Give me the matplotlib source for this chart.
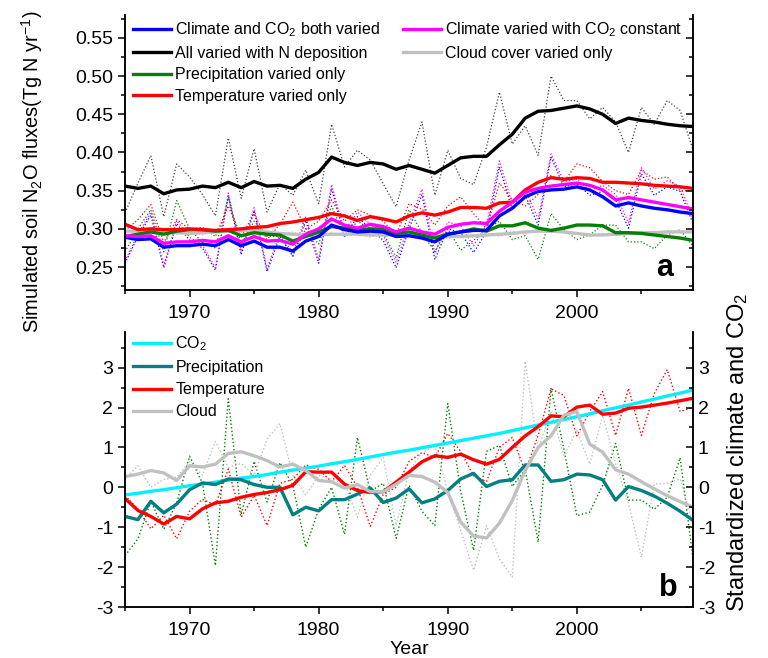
import numpy as np
import matplotlib
matplotlib.use('Agg')
import matplotlib.pyplot as plt
from matplotlib.lines import Line2D
from matplotlib.ticker import MultipleLocator

plt.rcParams['font.family'] = ['Liberation Sans', 'DejaVu Sans']
plt.rcParams['mathtext.fontset'] = 'custom'
plt.rcParams['mathtext.rm'] = 'Liberation Sans'
plt.rcParams['mathtext.it'] = 'Liberation Sans:italic'
plt.rcParams['axes.linewidth'] = 1.1
plt.rcParams['axes.unicode_minus'] = False

years = np.arange(1965, 2010)

# panel a: simulated soil N2O fluxes, smoothed (solid) and annual (dotted)
both_varied = [0.289, 0.286, 0.287, 0.276, 0.278, 0.278, 0.280, 0.278, 0.286, 0.278,
               0.284, 0.276, 0.276, 0.271, 0.284, 0.290, 0.305, 0.299, 0.296, 0.297,
               0.296, 0.290, 0.291, 0.288, 0.283, 0.293, 0.296, 0.298, 0.298, 0.317,
               0.327, 0.342, 0.349, 0.351, 0.352, 0.355, 0.351, 0.342, 0.330, 0.334,
               0.330, 0.327, 0.325, 0.322, 0.320]
n_deposition = [0.356, 0.353, 0.356, 0.346, 0.351, 0.352, 0.356, 0.354, 0.361, 0.354,
                0.362, 0.356, 0.357, 0.353, 0.365, 0.374, 0.394, 0.387, 0.383, 0.387,
                0.385, 0.378, 0.383, 0.378, 0.373, 0.383, 0.393, 0.395, 0.395, 0.410,
                0.424, 0.445, 0.454, 0.455, 0.458, 0.461, 0.457, 0.450, 0.438, 0.445,
                0.442, 0.440, 0.437, 0.435, 0.434]
precip_only = [0.290, 0.293, 0.296, 0.293, 0.297, 0.299, 0.299, 0.297, 0.298, 0.291,
               0.295, 0.293, 0.292, 0.284, 0.290, 0.296, 0.303, 0.301, 0.299, 0.300,
               0.300, 0.294, 0.296, 0.292, 0.288, 0.293, 0.296, 0.300, 0.297, 0.304,
               0.304, 0.308, 0.301, 0.298, 0.301, 0.305, 0.305, 0.304, 0.295, 0.295,
               0.294, 0.292, 0.290, 0.288, 0.285]
temp_only = [0.306, 0.299, 0.300, 0.299, 0.299, 0.300, 0.299, 0.298, 0.299, 0.300,
             0.302, 0.303, 0.307, 0.309, 0.312, 0.315, 0.320, 0.317, 0.311, 0.316,
             0.313, 0.309, 0.317, 0.321, 0.318, 0.322, 0.328, 0.328, 0.327, 0.334,
             0.335, 0.351, 0.361, 0.367, 0.365, 0.367, 0.366, 0.361, 0.361, 0.360,
             0.359, 0.357, 0.356, 0.355, 0.353]
co2_constant = [0.291, 0.290, 0.291, 0.281, 0.283, 0.283, 0.285, 0.283, 0.291, 0.283,
                0.290, 0.284, 0.285, 0.280, 0.293, 0.300, 0.313, 0.305, 0.301, 0.306,
                0.303, 0.296, 0.301, 0.296, 0.293, 0.302, 0.306, 0.308, 0.307, 0.323,
                0.335, 0.348, 0.353, 0.356, 0.358, 0.360, 0.357, 0.351, 0.338, 0.341,
                0.338, 0.335, 0.332, 0.329, 0.326]
cloud_only = [0.297, 0.297, 0.296, 0.295, 0.295, 0.294, 0.295, 0.296, 0.297, 0.298,
              0.298, 0.296, 0.294, 0.293, 0.292, 0.292, 0.293, 0.293, 0.293, 0.292,
              0.292, 0.292, 0.292, 0.291, 0.291, 0.290, 0.290, 0.291, 0.292, 0.293,
              0.294, 0.296, 0.297, 0.297, 0.296, 0.294, 0.292, 0.292, 0.293, 0.294,
              0.295, 0.295, 0.296, 0.296, 0.296]

both_varied_yr = [0.255, 0.290, 0.318, 0.249, 0.307, 0.285, 0.275, 0.246, 0.344, 0.266,
                  0.324, 0.244, 0.290, 0.264, 0.311, 0.255, 0.353, 0.290, 0.316, 0.300,
                  0.285, 0.249, 0.300, 0.345, 0.260, 0.300, 0.295, 0.269, 0.296, 0.381,
                  0.325, 0.344, 0.305, 0.394, 0.355, 0.359, 0.344, 0.349, 0.338, 0.301,
                  0.372, 0.344, 0.355, 0.349, 0.307]
n_deposition_yr = [0.321, 0.360, 0.396, 0.316, 0.385, 0.368, 0.345, 0.317, 0.419, 0.340,
                   0.405, 0.322, 0.359, 0.344, 0.377, 0.333, 0.437, 0.381, 0.403, 0.390,
                   0.359, 0.329, 0.390, 0.440, 0.344, 0.403, 0.366, 0.358, 0.407, 0.479,
                   0.411, 0.435, 0.396, 0.500, 0.468, 0.468, 0.444, 0.459, 0.440, 0.400,
                   0.459, 0.437, 0.468, 0.455, 0.403]
precip_only_yr = [0.270, 0.300, 0.325, 0.270, 0.337, 0.300, 0.282, 0.275, 0.340, 0.280,
                  0.310, 0.290, 0.290, 0.265, 0.300, 0.280, 0.330, 0.290, 0.310, 0.300,
                  0.295, 0.262, 0.325, 0.295, 0.270, 0.300, 0.272, 0.285, 0.300, 0.310,
                  0.286, 0.291, 0.260, 0.320, 0.299, 0.286, 0.292, 0.305, 0.305, 0.283,
                  0.283, 0.274, 0.292, 0.299, 0.277]
temp_only_yr = [0.298, 0.312, 0.332, 0.282, 0.312, 0.300, 0.302, 0.290, 0.330, 0.290,
                0.320, 0.286, 0.306, 0.335, 0.300, 0.310, 0.338, 0.310, 0.325, 0.318,
                0.310, 0.292, 0.333, 0.326, 0.305, 0.330, 0.342, 0.320, 0.300, 0.360,
                0.338, 0.330, 0.345, 0.370, 0.362, 0.385, 0.380, 0.362, 0.350, 0.345,
                0.377, 0.365, 0.368, 0.350, 0.350]
co2_constant_yr = [0.258, 0.293, 0.322, 0.252, 0.311, 0.289, 0.279, 0.249, 0.347, 0.270,
                   0.328, 0.248, 0.294, 0.268, 0.316, 0.260, 0.358, 0.296, 0.322, 0.306,
                   0.292, 0.256, 0.307, 0.352, 0.268, 0.309, 0.304, 0.278, 0.305, 0.389,
                   0.333, 0.352, 0.313, 0.398, 0.362, 0.365, 0.350, 0.357, 0.345, 0.308,
                   0.380, 0.352, 0.363, 0.356, 0.313]
cloud_only_yr = [0.295, 0.300, 0.294, 0.297, 0.293, 0.296, 0.292, 0.299, 0.300, 0.296,
                 0.301, 0.295, 0.293, 0.296, 0.290, 0.293, 0.295, 0.291, 0.294, 0.289,
                 0.295, 0.290, 0.293, 0.289, 0.292, 0.287, 0.291, 0.289, 0.294, 0.290,
                 0.297, 0.293, 0.300, 0.295, 0.298, 0.293, 0.290, 0.294, 0.291, 0.296,
                 0.297, 0.293, 0.298, 0.295, 0.298]

# panel b: standardized drivers
co2 = [-0.19, -0.15, -0.10, -0.06, -0.01, 0.04, 0.08, 0.13, 0.18, 0.23,
       0.27, 0.32, 0.38, 0.43, 0.48, 0.53, 0.59, 0.64, 0.70, 0.76,
       0.82, 0.88, 0.93, 0.99, 1.05, 1.11, 1.17, 1.23, 1.29, 1.35,
       1.42, 1.49, 1.56, 1.63, 1.70, 1.77, 1.84, 1.92, 1.99, 2.06,
       2.14, 2.21, 2.29, 2.36, 2.44]
precip = [-0.73, -0.81, -0.35, -0.64, -0.42, -0.06, 0.11, 0.07, 0.21, 0.19,
          0.07, 0.00, 0.00, -0.69, -0.50, -0.59, -0.31, -0.31, -0.17, -0.02,
          -0.38, -0.27, -0.04, -0.39, -0.29, -0.08, 0.21, 0.35, 0.02, 0.15,
          0.19, 0.56, 0.56, 0.15, 0.19, 0.33, 0.31, 0.19, -0.32, 0.02,
          -0.08, -0.22, -0.40, -0.60, -0.83]
temp = [-0.28, -0.58, -0.73, -0.92, -0.73, -0.79, -0.54, -0.39, -0.35, -0.25,
        -0.18, -0.13, -0.06, 0.05, 0.39, 0.38, 0.38, 0.08, -0.08, -0.13,
        -0.11, 0.13, 0.38, 0.64, 0.79, 0.75, 0.83, 0.69, 0.58, 0.70,
        1.00, 1.29, 1.52, 1.79, 1.77, 2.01, 2.06, 1.83, 1.86, 1.98,
        2.01, 2.06, 2.11, 2.17, 2.23]
cloud = [0.27, 0.33, 0.42, 0.36, 0.17, 0.54, 0.51, 0.58, 0.85, 0.89,
         0.79, 0.67, 0.51, 0.58, 0.42, 0.17, 0.14, -0.02, 0.07, -0.11,
         -0.11, 0.08, 0.30, 0.27, 0.13, -0.13, -0.87, -1.22, -1.27, -0.90,
         -0.33, 0.42, 1.00, 1.29, 1.81, 1.90, 1.08, 0.88, 0.44, 0.33,
         0.14, -0.04, -0.21, -0.36, -0.50]
precip_yr = [-1.71, -1.29, -0.35, -1.05, -0.40, 0.78, 0.10, -1.96, 2.22, -0.68,
             0.65, -0.37, 0.62, 0.05, -1.50, -0.55, 0.00, -1.18, 1.25, -0.10,
             0.10, -1.28, 0.05, -0.60, -0.96, 2.10, -0.10, -1.58, 0.90, 1.05,
             0.02, 0.45, -1.37, 2.48, 0.95, -0.71, -0.62, 0.05, 1.10, -0.32,
             -0.32, -0.55, -0.25, 0.74, -1.80]
temp_yr = [-0.20, -0.55, -1.04, -0.70, -1.29, -0.60, -0.30, -0.45, 0.46, -0.75,
           -0.20, -0.96, 0.10, 0.20, 0.56, 0.45, 0.14, 0.55, 0.00, -0.98,
           -0.18, 0.00, 0.65, 0.87, 0.75, 1.35, 0.90, 0.29, 0.14, 1.00,
           1.25, 0.40, 1.30, 2.47, 2.30, 1.29, 1.90, 2.40, 1.30, 2.48,
           1.30, 2.35, 2.95, 1.90, 2.00]
cloud_yr = [0.20, 0.54, 0.00, 0.20, 0.25, 0.65, 0.30, 1.15, 0.50, 0.60,
            0.30, 1.20, 1.60, 0.30, -0.20, 0.30, 0.20, 0.10, -0.75, 0.30,
            0.75, -0.96, 0.40, 0.87, 1.04, -0.10, -1.08, -2.08, -0.96, -1.79,
            -2.25, 3.16, 0.95, 1.90, 0.79, 1.42, 0.58, 1.80, 0.60, -0.40,
            -1.75, 0.08, 0.10, 0.21, -0.96]

BLUE = '#0000ff'
GREEN = '#008000'
RED = '#ff0000'
MAGENTA = '#ff00ff'
GRAY = '#c0c0c0'
CYAN = '#00f0ff'
TEAL = '#008080'

fig = plt.figure(figsize=(7.68, 6.58), dpi=100)
ax1 = fig.add_axes([0.1628, 0.5593, 0.7396, 0.4179])
ax2 = fig.add_axes([0.1628, 0.0775, 0.7396, 0.4184])

thick = 2.4
thin = 1.0
leg_size = 11.5

# ---- panel a
for vals, c in [(n_deposition_yr, '#404040'), (both_varied_yr, BLUE), (co2_constant_yr, MAGENTA),
                (precip_only_yr, GREEN), (temp_only_yr, RED), (cloud_only_yr, GRAY)]:
    ax1.plot(years, vals, ls=':', lw=0.9, color=c)

ax1.plot(years, cloud_only, color=GRAY, lw=thick)
ax1.plot(years, precip_only, color=GREEN, lw=thick)
ax1.plot(years, temp_only, color=RED, lw=thick)
ax1.plot(years, both_varied, color=BLUE, lw=thick)
ax1.plot(years, co2_constant, color=MAGENTA, lw=thick)
ax1.plot(years, n_deposition, color='black', lw=thick)

blank = Line2D([], [], color='none')
handles = [Line2D([], [], color=BLUE, lw=thick), Line2D([], [], color='black', lw=thick),
           Line2D([], [], color=GREEN, lw=thick), Line2D([], [], color=RED, lw=thick),
           Line2D([], [], color=MAGENTA, lw=thick), Line2D([], [], color=GRAY, lw=thick),
           blank, blank]
labels = ['Climate and CO$_2$ both varied', 'All varied with N deposition',
          'Precipitation varied only', 'Temperature varied only',
          'Climate varied with CO$_2$ constant', 'Cloud cover varied only', '', '']
ax1.legend(handles, labels, ncol=2, loc='upper left', frameon=False, fontsize=leg_size,
           handlelength=2.4, handletextpad=0.25, columnspacing=1.4, labelspacing=0.42,
           borderaxespad=0.1, bbox_to_anchor=(0.0, 1.01))

ax1.set_xlim(1965, 2009)
ax1.set_ylim(0.22, 0.58)
ax1.yaxis.set_major_locator(MultipleLocator(0.05))
ax1.yaxis.set_minor_locator(MultipleLocator(0.025))
ax1.set_yticks([0.25, 0.30, 0.35, 0.40, 0.45, 0.50, 0.55])
ax1.set_yticklabels(['0.25', '0.30', '0.35', '0.40', '0.45', '0.50', '0.55'])
ax1.text(0.965, 0.025, 'a', transform=ax1.transAxes, ha='right', va='bottom',
         fontsize=22, fontweight='bold')

# ---- panel b
ax2.plot(years, precip_yr, ls=':', lw=thin, color=GREEN)
ax2.plot(years, temp_yr, ls=':', lw=thin, color=RED)
ax2.plot(years, cloud_yr, ls=':', lw=thin, color=GRAY)
ax2.plot(years, co2, color=CYAN, lw=thick, label='CO$_2$')
ax2.plot(years, precip, color=TEAL, lw=thick, label='Precipitation')
ax2.plot(years, temp, color=RED, lw=thick, label='Temperature')
ax2.plot(years, cloud, color=GRAY, lw=thick, label='Cloud')
ax2.legend(loc='upper left', frameon=False, fontsize=leg_size, handlelength=2.4,
           handletextpad=0.25, labelspacing=0.45, borderaxespad=0.1,
           bbox_to_anchor=(0.0, 1.02))

ax2.set_xlim(1965, 2009)
ax2.set_ylim(-3, 3.9)
ax2.yaxis.set_major_locator(MultipleLocator(1))
ax2.yaxis.set_minor_locator(MultipleLocator(0.5))
ax2.set_yticks([-3, -2, -1, 0, 1, 2, 3])
ax2.text(0.972, 0.015, 'b', transform=ax2.transAxes, ha='right', va='bottom',
         fontsize=22, fontweight='bold')

for ax in (ax1, ax2):
    ax.xaxis.set_major_locator(MultipleLocator(10))
    ax.xaxis.set_minor_locator(MultipleLocator(5))
    ax.spines['top'].set_visible(False)
    ax.tick_params(which='major', direction='out', length=5, width=1.1, labelsize=14)
    ax.tick_params(which='minor', direction='out', length=3, width=1.1)
    ax.tick_params(axis='x', which='both', top=False, pad=6)
    ax.tick_params(axis='y', which='both', right=False)

    # right-hand axis with inward ticks
    axr = ax.twinx()
    axr.set_ylim(ax.get_ylim())
    axr.yaxis.set_major_locator(ax.yaxis.get_major_locator())
    axr.yaxis.set_minor_locator(ax.yaxis.get_minor_locator())
    axr.spines['top'].set_visible(False)
    axr.tick_params(which='major', direction='in', length=5, width=1.1, labelsize=14)
    axr.tick_params(which='minor', direction='in', length=3, width=1.1)
    if ax is ax1:
        axr.tick_params(labelright=False)
    else:
        axr.set_yticks([-3, -2, -1, 0, 1, 2, 3])
        axr.set_ylim(-3, 3.9)

fig.text(0.042, 1 - 172 / 658, 'Simulated soil N$_2$O fluxes(Tg N yr$^{-1}$)',
         rotation=90, ha='center', va='center', fontsize=14.4)
fig.text(0.961, 1 - 452 / 658, 'Standardized climate and CO$_2$',
         rotation=90, ha='center', va='center', fontsize=17)
fig.text(409 / 768, 1 - 649 / 658, 'Year', ha='center', va='center', fontsize=14)

fig.savefig('out.png', dpi=100)
